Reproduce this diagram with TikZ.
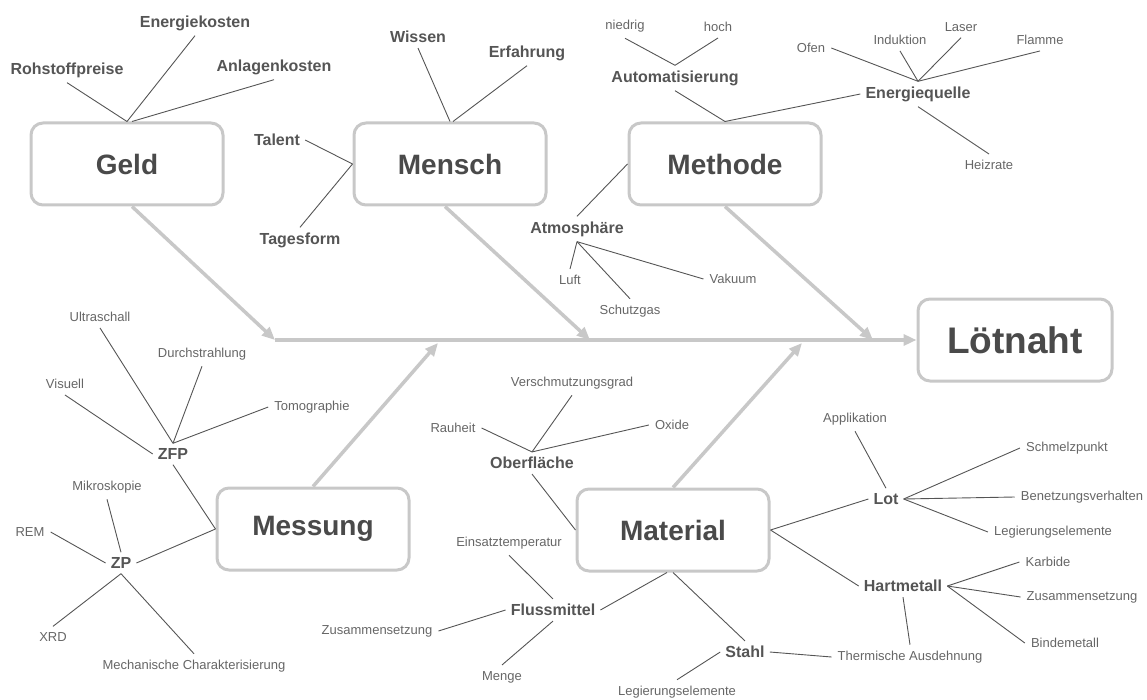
\documentclass[tikz,border=0pt]{standalone}
\usepackage{fontspec}
\setmainfont{Liberation Sans}
\usetikzlibrary{arrows.meta}
\definecolor{bonegray}{HTML}{C8C8C8}
\definecolor{twiggray}{HTML}{555555}
\definecolor{headgray}{HTML}{4A4A4A}
\definecolor{subgray}{HTML}{555555}
\definecolor{leafgray}{HTML}{666666}

\begin{document}
\begin{tikzpicture}[x=1pt,y=-1pt,
    cause/.style={draw=bonegray,line width=3pt,rounded corners=12pt,fill=white,
        minimum width=192pt,minimum height=82pt,text=headgray,
        font=\fontsize{28}{32}\selectfont\bfseries},
    effect/.style={cause,minimum width=194pt,font=\fontsize{37}{42}\selectfont\bfseries},
    sub/.style={text=subgray,inner sep=5pt,font=\fontsize{16}{18}\selectfont\bfseries},
    leaf/.style={text=leafgray,inner sep=6pt,font=\fontsize{13}{15}\selectfont},
    bone/.style={draw=bonegray,line width=3.5pt,-{Triangle[length=13pt,width=11pt]}},
    twig/.style={draw=twiggray,line width=0.9pt}]
    \useasboundingbox (0,0) rectangle (1147,700);

    \node[cause] (geld) at (127,164) {Geld};
    \node[cause] (mensch) at (450,164) {Mensch};
    \node[cause] (methode) at (725,164) {Methode};
    \node[cause] (messung) at (313,529) {Messung};
    \node[cause] (material) at (673,530) {Material};
    \node[effect] (loetnaht) at (1015,340) {Lötnaht};

    \coordinate (s0) at (275,340);
    \coordinate (s1) at (590,340);
    \coordinate (s2) at (873,340);
    \coordinate (s3) at (438,343);
    \coordinate (s4) at (802,343);

    \draw[bone] (s0) -- (loetnaht.west);
    \draw[bone] ([xshift=5pt]geld.south) -- (s0);
    \draw[bone] ([xshift=-5pt]mensch.south) -- (s1);
    \draw[bone] (methode.south) -- (s2);
    \draw[bone] (messung.north) -- (s3);
    \draw[bone] (material.north) -- (s4);

    % Geld
    \node[sub] (rohstoff) at (67,70) {Rohstoffpreise};
    \node[sub] (energiek) at (195,23) {Energiekosten};
    \node[sub] (anlagen) at (274,67) {Anlagenkosten};
    \draw[twig] (rohstoff.south) -- (geld.north);
    \draw[twig] (energiek.south) -- (geld.north);
    \draw[twig] (anlagen.south) -- ([xshift=5pt]geld.north);

    % Mensch
    \node[sub] (talent) at (277,140) {Talent};
    \node[sub] (tagesform) at (300,240) {Tagesform};
    \node[sub] (wissen) at (418,37) {Wissen};
    \node[sub] (erfahrung) at (527,53) {Erfahrung};
    \draw[twig] (talent.east) -- (mensch.west);
    \draw[twig] (tagesform.north) -- (mensch.west);
    \draw[twig] (wissen.south) -- (mensch.north);
    \draw[twig] (erfahrung.south) -- ([xshift=3pt]mensch.north);

    % Methode
    \node[sub] (automat) at (675,78) {Automatisierung};
    \node[leaf] (niedrig) at (625,26) {niedrig};
    \node[leaf] (hoch) at (718,27) {hoch};
    \node[sub] (equelle) at (918,94) {Energiequelle};
    \node[leaf] (ofen) at (811,48) {Ofen};
    \node[leaf] (induktion) at (900,40) {Induktion};
    \node[leaf] (laser) at (961,27) {Laser};
    \node[leaf] (flamme) at (1040,40) {Flamme};
    \node[leaf] (heizrate) at (989,165) {Heizrate};
    \node[sub] (atmo) at (577,229) {Atmosphäre};
    \node[leaf] (luft) at (570,280) {Luft};
    \node[leaf] (schutzgas) at (630,311) {Schutzgas};
    \node[leaf] (vakuum) at (733,279) {Vakuum};
    \draw[twig] (automat.south) -- (methode.north);
    \draw[twig] (niedrig.south) -- (automat.north);
    \draw[twig] (hoch.south) -- (automat.north);
    \draw[twig] (methode.north) -- (equelle.west);
    \draw[twig] (ofen.east) -- (equelle.north);
    \draw[twig] (induktion.south) -- (equelle.north);
    \draw[twig] (laser.south) -- (equelle.north);
    \draw[twig] (flamme.south) -- (equelle.north);
    \draw[twig] (equelle.south) -- (heizrate.north);
    \draw[twig] (atmo.north) -- (methode.west);
    \draw[twig] (luft.north) -- (atmo.south);
    \draw[twig] (schutzgas.north) -- (atmo.south);
    \draw[twig] (vakuum.west) -- (atmo.south);

    % Messung
    \node[sub] (zfp) at (173,454) {ZFP};
    \node[leaf] (ultraschall) at (100,317) {Ultraschall};
    \node[leaf] (durchstr) at (202,354) {Durchstrahlung};
    \node[leaf] (visuell) at (65,384) {Visuell};
    \node[leaf] (tomo) at (312,407) {Tomographie};
    \node[sub] (zp) at (121,563) {ZP};
    \node[leaf] (mikro) at (107,487) {Mikroskopie};
    \node[leaf] (rem) at (30,532) {REM};
    \node[leaf] (xrd) at (53,637) {XRD};
    \node[leaf] (mech) at (194,666) {Mechanische Charakterisierung};
    \draw[twig] (zfp.south) -- (messung.west);
    \draw[twig] (zp.east) -- (messung.west);
    \draw[twig] (ultraschall.south) -- (zfp.north);
    \draw[twig] (durchstr.south) -- (zfp.north);
    \draw[twig] (visuell.south) -- (zfp.west);
    \draw[twig] (tomo.west) -- (zfp.north);
    \draw[twig] (mikro.south) -- (zp.north);
    \draw[twig] (rem.east) -- (zp.west);
    \draw[twig] (xrd.north) -- (zp.south);
    \draw[twig] (mech.north) -- (zp.south);

    % Material
    \node[sub] (ober) at (532,463) {Oberfläche};
    \node[leaf] (rauheit) at (453,428) {Rauheit};
    \node[leaf] (versch) at (572,383) {Verschmutzungsgrad};
    \node[leaf] (oxide) at (672,425) {Oxide};
    \node[sub] (fluss) at (553,610) {Flussmittel};
    \node[leaf] (einsatz) at (509,543) {Einsatztemperatur};
    \node[leaf] (zusfluss) at (377,631) {Zusammensetzung};
    \node[leaf] (menge) at (502,677) {Menge};
    \node[sub] (stahl) at (745,652) {Stahl};
    \node[leaf] (legstahl) at (677,692) {Legierungselemente};
    \node[leaf] (thermisch) at (910,657) {Thermische Ausdehnung};
    \node[sub] (lot) at (886,499) {Lot};
    \node[leaf] (applikation) at (855,419) {Applikation};
    \node[leaf] (schmelz) at (1067,448) {Schmelzpunkt};
    \node[leaf] (benetz) at (1082,497) {Benetzungsverhalten};
    \node[leaf] (leglot) at (1053,532) {Legierungselemente};
    \node[sub] (hart) at (903,586) {Hartmetall};
    \node[leaf] (karbide) at (1048,562) {Karbide};
    \node[leaf] (zushart) at (1082,597) {Zusammensetzung};
    \node[leaf] (binde) at (1065,643) {Bindemetall};
    \draw[twig] (ober.south) -- (material.west);
    \draw[twig] (rauheit.east) -- (ober.north);
    \draw[twig] (versch.south) -- (ober.north);
    \draw[twig] (oxide.west) -- (ober.north);
    \draw[twig] (fluss.east) -- ([xshift=-6pt]material.south);
    \draw[twig] (einsatz.south) -- (fluss.north);
    \draw[twig] (zusfluss.east) -- (fluss.west);
    \draw[twig] (menge.north) -- (fluss.south);
    \draw[twig] (material.south) -- (stahl.north);
    \draw[twig] (legstahl.north) -- (stahl.west);
    \draw[twig] (stahl.east) -- (thermisch.west);
    \draw[twig] (material.east) -- (lot.west);
    \draw[twig] (applikation.south) -- (lot.north);
    \draw[twig] (lot.east) -- (schmelz.west);
    \draw[twig] (lot.east) -- (benetz.west);
    \draw[twig] (lot.east) -- (leglot.west);
    \draw[twig] (material.east) -- (hart.west);
    \draw[twig] (hart.east) -- (karbide.west);
    \draw[twig] (hart.east) -- (zushart.west);
    \draw[twig] (hart.east) -- (binde.west);
    \draw[twig] (hart.south) -- (thermisch.north);
\end{tikzpicture}
\end{document}
